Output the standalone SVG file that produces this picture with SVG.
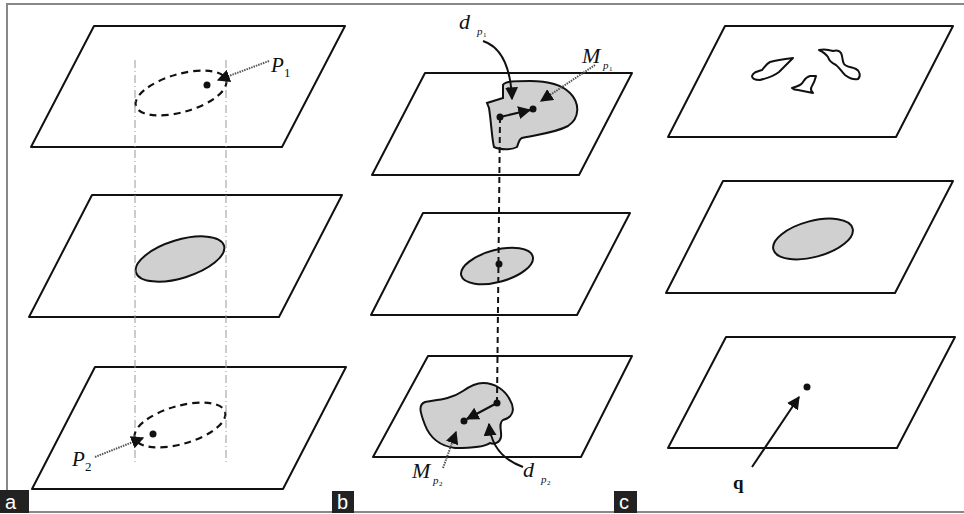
<svg xmlns="http://www.w3.org/2000/svg" width="964" height="514" viewBox="0 0 964 514">
<defs>
<style>
.plane{fill:#fff;stroke:#111;stroke-width:2;stroke-linejoin:round}
.dash{fill:none;stroke:#111;stroke-width:2.2;stroke-dasharray:7,5}
.gray{fill:#d0d0d0;stroke:#111;stroke-width:2}
.guide{fill:none;stroke:#999;stroke-width:1;stroke-dasharray:8,3,1,3}
.dotted{fill:none;stroke:#555;stroke-width:2;stroke-dasharray:1.5,1}
.solid{fill:none;stroke:#111;stroke-width:2}
.vdash{fill:none;stroke:#111;stroke-width:2;stroke-dasharray:6,4}
.blob{fill:#fff;stroke:#111;stroke-width:2;stroke-linejoin:round}
.lbl{font-family:"Liberation Serif",serif;font-style:italic;fill:#111}
.num{font-family:"Liberation Serif",serif;font-style:normal;fill:#111}
.tag{font-family:"Liberation Sans",Arial,sans-serif;font-size:20px;fill:#fff}
</style>
<marker id="ah" viewBox="0 0 10 10" refX="9" refY="5" markerWidth="13" markerHeight="13" markerUnits="userSpaceOnUse" orient="auto">
<path d="M0,0 L10,5 L0,10 z" fill="#111"/>
</marker>
</defs>
<rect x="0" y="0" width="964" height="514" fill="#fff"/>
<rect x="7" y="4" width="960" height="508" fill="none" stroke="#888" stroke-width="2"/>

<!-- Panel a -->
<g id="a-top">
<path class="plane" d="M94,26 L345,26 L282,147 L31,147 Z"/>
<ellipse class="dash" cx="181" cy="93" rx="47" ry="19" transform="rotate(-16 181 93)"/>
<circle cx="207" cy="85" r="3.5" fill="#111"/>
</g>
<g id="a-mid">
<path class="plane" d="M92,195 L342,195 L279,317 L29,317 Z"/>
<ellipse class="gray" cx="180" cy="259" rx="46" ry="19" transform="rotate(-17 180 259)"/>
</g>
<g id="a-bot">
<path class="plane" d="M95,367 L346,367 L283,489 L32,489 Z"/>
<ellipse class="dash" cx="180" cy="425" rx="47" ry="19" transform="rotate(-16 180 425)"/>
<circle cx="153" cy="434" r="3.5" fill="#111"/>
</g>
<g id="a-guides">
<line class="guide" x1="135" y1="60" x2="135" y2="462"/>
<line class="guide" x1="226" y1="60" x2="226" y2="462"/>
</g>
<g id="a-labels">
<text class="lbl" x="271" y="72" font-size="21">P</text>
<text class="num" x="284" y="77" font-size="13">1</text>
<text class="lbl" x="72" y="466" font-size="21">P</text>
<text class="num" x="85" y="471" font-size="13">2</text>
</g>

<!-- Panel b -->
<g id="b-top">
<path class="plane" d="M425,73 L632,73 L579,175 L372,175 Z"/>
<path class="gray" d="M503,85 L503,98 L487,103 L489,108 C491,120 492,140 494,147 C500,150 512,150 517,147 C519,142 519,139 522,138 C535,135 555,133 568,126 C580,118 580,103 570,93 C560,83 545,81 530,81 C515,81 505,81 503,85 Z"/>
<circle cx="500" cy="117" r="3.5" fill="#111"/>
<circle cx="533" cy="109" r="3.5" fill="#111"/>
</g>
<g id="b-mid">
<path class="plane" d="M423,213 L630,213 L577,315 L371,315 Z"/>
<ellipse class="gray" cx="497" cy="266" rx="37" ry="16" transform="rotate(-15 497 266)"/>
</g>
<g id="b-bot">
<path class="plane" d="M428,356 L632,356 L581,457 L373,457 Z"/>
<path class="gray" d="M483,383 C495,383 505,390 510,400 C516,410 512,418 503,420 C498,423 502,432 501,437 C500,442 495,445 490,443 C485,447 470,448 455,448 C440,446 430,438 425,425 C420,412 418,405 425,402 C435,400 450,400 463,391 C470,386 476,383 483,383 Z"/>
<circle cx="497" cy="403" r="3.5" fill="#111"/>
<circle cx="464" cy="421" r="3.5" fill="#111"/>
</g>
<g id="b-labels">
<text class="lbl" x="459" y="29" font-size="22">d</text>
<text class="lbl" x="477" y="35" font-size="11">p</text>
<text class="num" x="483" y="37" font-size="7">1</text>
<text class="lbl" x="582" y="63" font-size="22">M</text>
<text class="lbl" x="603" y="69" font-size="11">p</text>
<text class="num" x="609" y="71" font-size="7">1</text>
<text class="lbl" x="412" y="478" font-size="22">M</text>
<text class="lbl" x="433" y="484" font-size="11">p</text>
<text class="num" x="439" y="486" font-size="7">2</text>
<text class="lbl" x="523" y="477" font-size="22">d</text>
<text class="lbl" x="541" y="483" font-size="11">p</text>
<text class="num" x="547" y="485" font-size="7">2</text>
</g>

<!-- Panel c -->
<g id="c-top">
<path class="plane" d="M725,26 L953,26 L896,137 L668,137 Z"/>
<path class="blob" d="M752,76 C753,73 755,72 762,70 C765,67 766,64 770,62 C777,60 785,59 793,58 C789,62 785,66 779,72 C774,76 768,78 760,80 C756,80 752,79 752,76 Z"/>
<path class="blob" d="M792,88 C797,86 801,86 803,82 C805,79 806,77 810,76 C813,76 815,76 816,76 C815,80 814,83 812,86 C810,89 811,91 813,93 C808,92 803,91 798,90 C795,90 793,89 792,88 Z"/>
<path class="blob" d="M819,50 C823,49 827,49 833,51 C836,50 839,50 841,53 C843,57 842,61 844,64 C846,67 852,67 856,69 C860,71 861,76 858,79 C854,80 849,78 845,75 C841,71 839,67 836,65 C832,63 829,61 828,57 C826,54 823,52 819,50 Z"/>
</g>
<g id="c-mid">
<path class="plane" d="M723,181 L953,181 L895,293 L666,293 Z"/>
<ellipse class="gray" cx="813" cy="239" rx="41" ry="18" transform="rotate(-15 813 239)"/>
</g>
<g id="c-bot">
<path class="plane" d="M726,337 L955,337 L897,448 L668,448 Z"/>
<circle cx="807" cy="387" r="3.5" fill="#111"/>
<text x="733" y="489" font-family="Liberation Serif,serif" font-weight="bold" font-size="19" fill="#111">q</text>
</g>

<!-- connectors -->
<g id="connectors">
<line class="dotted" x1="269" y1="61" x2="218" y2="80" marker-end="url(#ah)"/>
<line class="dotted" x1="95" y1="457" x2="143" y2="438" marker-end="url(#ah)"/>
<line class="vdash" x1="500" y1="117" x2="497" y2="403"/>
<circle cx="499" cy="264" r="3.5" fill="#111"/>
<path class="solid" d="M483,41 Q510,50 512,99" marker-end="url(#ah)"/>
<line class="dotted" x1="595" y1="65" x2="541" y2="101" marker-end="url(#ah)"/>
<line class="solid" x1="500" y1="117" x2="530" y2="110" marker-end="url(#ah)"/>
<line class="solid" x1="497" y1="403" x2="467" y2="419" marker-end="url(#ah)"/>
<line class="dotted" x1="443" y1="468" x2="456" y2="432" marker-end="url(#ah)"/>
<path class="solid" d="M523,467 Q492,456 489,424" marker-end="url(#ah)"/>
<line class="solid" x1="752" y1="467" x2="799" y2="397" marker-end="url(#ah)"/>
</g>

<g id="tags">
<rect x="0" y="490" width="29" height="23" fill="#222"/>
<text class="tag" x="5" y="509">a</text>
<rect x="332" y="491" width="22" height="22" fill="#222"/>
<text class="tag" x="337" y="509">b</text>
<rect x="614" y="491" width="23" height="22" fill="#222"/>
<text class="tag" x="619" y="509">c</text>
</g>
</svg>
